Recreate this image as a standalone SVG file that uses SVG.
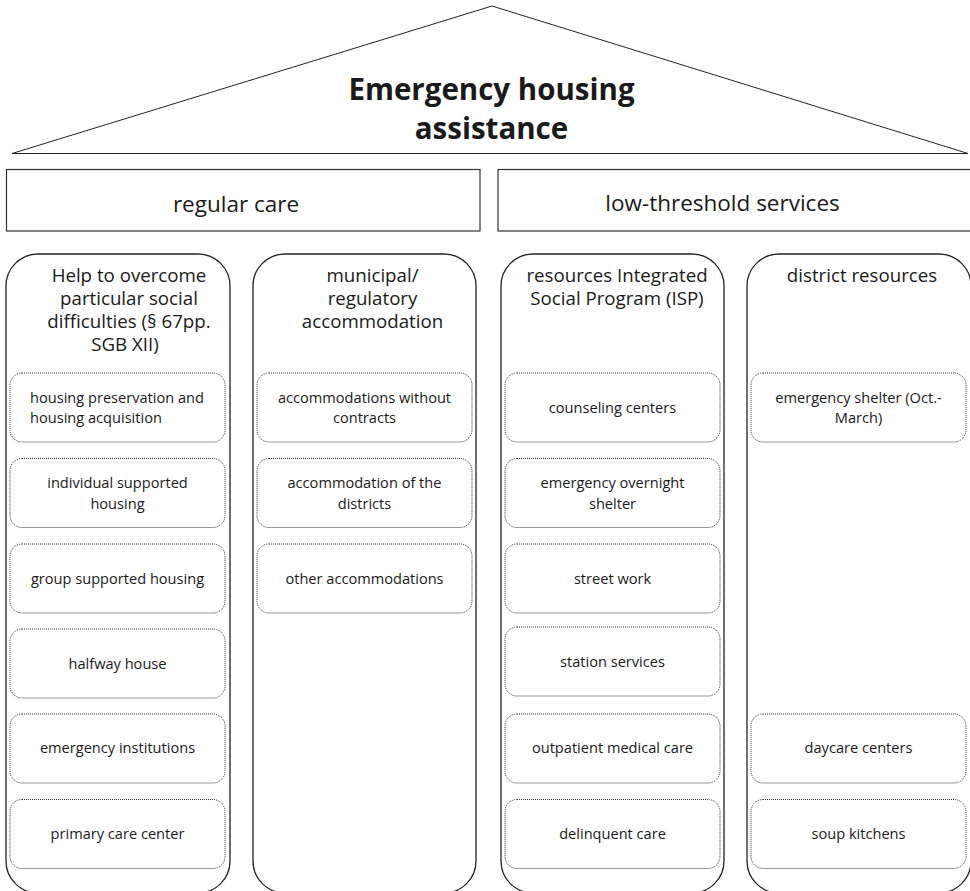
<svg xmlns="http://www.w3.org/2000/svg" width="970" height="891" viewBox="0 0 970 891">
<style>
text{font-family:"Open Sans","Liberation Sans",sans-serif;fill:#1a1a1a}
.title{font-size:29.5px;font-weight:bold;text-anchor:middle}
.hdr{font-size:22.5px;text-anchor:middle}
.col{font-size:18.7px;text-anchor:middle}
.item{font-size:14.6px;text-anchor:middle}
.itemL{font-size:14.6px;text-anchor:start}
.roof{fill:#fff;stroke:#222;stroke-width:1}
.band{fill:#fff;stroke:#333;stroke-width:1.2}
.column{fill:#fff;stroke:#222;stroke-width:1.3}
.box{fill:#fff;stroke:#333;stroke-width:1;stroke-dasharray:1 1}
</style>
<rect width="970" height="891" fill="#fff"/>
<g id="roof">
<polygon class="roof" points="12,153.5 492,6 968,153.5"/>
<text class="title" x="491.5" y="100">Emergency housing</text>
<text class="title" x="491.5" y="139">assistance</text>
</g>
<g id="regular-care">
<rect class="band" x="6.5" y="169.5" width="473.5" height="61.5"/>
<text class="hdr" x="236" y="212">regular care</text>
</g>
<g id="low-threshold">
<rect class="band" x="498" y="169.5" width="480" height="61.5"/>
<text class="hdr" x="722.5" y="211">low-threshold services</text>
</g>
<g id="col-help">
<rect class="column" x="6" y="254" width="224" height="639" rx="32" ry="32"/>
<text class="col" x="129" y="282">Help to overcome</text>
<text class="col" x="129" y="305">particular social</text>
<text class="col" x="129" y="328">difficulties (§ 67pp.</text>
<text class="col" x="125" y="351">SGB XII)</text>
</g>
<g id="col-municipal">
<rect class="column" x="253" y="254" width="223" height="639" rx="32" ry="32"/>
<text class="col" x="372.5" y="282">municipal/</text>
<text class="col" x="372.5" y="305">regulatory</text>
<text class="col" x="372.5" y="328">accommodation</text>
</g>
<g id="col-isp">
<rect class="column" x="501" y="254" width="223" height="639" rx="32" ry="32"/>
<text class="col" x="617" y="282">resources Integrated</text>
<text class="col" x="617" y="305">Social Program (ISP)</text>
</g>
<g id="col-district">
<rect class="column" x="747" y="254" width="224" height="639" rx="32" ry="32"/>
<text class="col" x="862" y="282">district resources</text>
</g>
<g id="n-housing-preservation">
<rect class="box" x="10" y="373" width="215" height="69" rx="12"/>
<text class="itemL" x="30" y="403">housing preservation and</text>
<text class="itemL" x="30" y="423">housing acquisition</text>
</g>
<g id="n-individual">
<rect class="box" x="10" y="458.5" width="215" height="69" rx="12"/>
<text class="item" x="117.5" y="488">individual supported</text>
<text class="item" x="117.5" y="509">housing</text>
</g>
<g id="n-group">
<rect class="box" x="10" y="544" width="215" height="69" rx="12"/>
<text class="item" x="117.5" y="584">group supported housing</text>
</g>
<g id="n-halfway">
<rect class="box" x="10" y="629" width="215" height="69" rx="12"/>
<text class="item" x="117.5" y="669">halfway house</text>
</g>
<g id="n-emergency-inst">
<rect class="box" x="10" y="714" width="215" height="69" rx="12"/>
<text class="item" x="117.5" y="753">emergency institutions</text>
</g>
<g id="n-primary">
<rect class="box" x="10" y="799.5" width="215" height="69" rx="12"/>
<text class="item" x="117.5" y="839">primary care center</text>
</g>
<g id="n-accom-without">
<rect class="box" x="257" y="373" width="215" height="69" rx="12"/>
<text class="item" x="364.5" y="403">accommodations without</text>
<text class="item" x="364.5" y="423">contracts</text>
</g>
<g id="n-accom-districts">
<rect class="box" x="257" y="458.5" width="215" height="69" rx="12"/>
<text class="item" x="364.5" y="488">accommodation of the</text>
<text class="item" x="364.5" y="509">districts</text>
</g>
<g id="n-other-accom">
<rect class="box" x="257" y="544" width="215" height="69" rx="12"/>
<text class="item" x="364.5" y="584">other accommodations</text>
</g>
<g id="n-counseling">
<rect class="box" x="505" y="373" width="215" height="69" rx="12"/>
<text class="item" x="612.5" y="413">counseling centers</text>
</g>
<g id="n-overnight">
<rect class="box" x="505" y="458.5" width="215" height="69" rx="12"/>
<text class="item" x="612.5" y="488">emergency overnight</text>
<text class="item" x="612.5" y="509">shelter</text>
</g>
<g id="n-street">
<rect class="box" x="505" y="544" width="215" height="69" rx="12"/>
<text class="item" x="612.5" y="584">street work</text>
</g>
<g id="n-station">
<rect class="box" x="505" y="627" width="215" height="69" rx="12"/>
<text class="item" x="612.5" y="667">station services</text>
</g>
<g id="n-outpatient">
<rect class="box" x="505" y="714" width="215" height="69" rx="12"/>
<text class="item" x="612.5" y="753">outpatient medical care</text>
</g>
<g id="n-delinquent">
<rect class="box" x="505" y="799.5" width="215" height="69" rx="12"/>
<text class="item" x="612.5" y="839">delinquent care</text>
</g>
<g id="n-shelter">
<rect class="box" x="751" y="373" width="215" height="69" rx="12"/>
<text class="item" x="858.5" y="403">emergency shelter (Oct.-</text>
<text class="item" x="858.5" y="423">March)</text>
</g>
<g id="n-daycare">
<rect class="box" x="751" y="714" width="215" height="69" rx="12"/>
<text class="item" x="858.5" y="753">daycare centers</text>
</g>
<g id="n-soup">
<rect class="box" x="751" y="799.5" width="215" height="69" rx="12"/>
<text class="item" x="858.5" y="839">soup kitchens</text>
</g>
<g id="connectors"></g>
</svg>
